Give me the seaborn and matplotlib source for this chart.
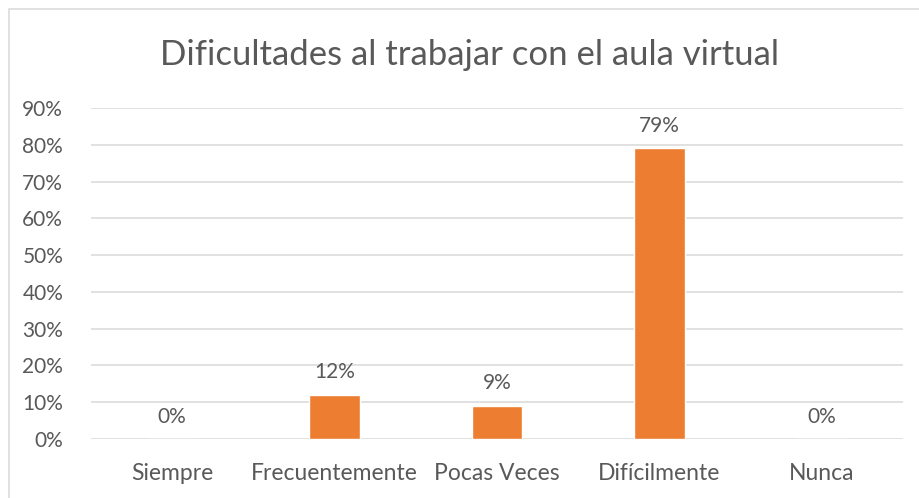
import pandas as pd
import seaborn as sns
import matplotlib
matplotlib.use("Agg")
import matplotlib.pyplot as plt
from matplotlib.patches import Rectangle
from matplotlib.ticker import PercentFormatter

categories = ["Siempre", "Frecuentemente", "Pocas Veces", "Difícilmente", "Nunca"]
values = [0.00, 0.12, 0.09, 0.79, 0.00]
labels = ["0%", "12%", "9%", "79%", "0%"]
yticks = [0.0, 0.1, 0.2, 0.3, 0.4, 0.5, 0.6, 0.7, 0.8, 0.9]

df = pd.DataFrame({"categoria": categories, "valor": values})

sns.set_theme(style="white")
plt.rcParams["font.family"] = ["Lato", "DejaVu Sans"]
text_color = "#595959"

fig = plt.figure(figsize=(9.2, 4.98), dpi=100)
ax = fig.add_axes([91 / 920, 59 / 498, 812 / 920, 331 / 498])

sns.barplot(data=df, x="categoria", y="valor", color="#ED7D31", saturation=1,
            width=0.314, ax=ax, zorder=3)

ax.set_ylim(0, 0.9)
ax.set_yticks(yticks)
ax.yaxis.set_major_formatter(PercentFormatter(1.0, decimals=0))
ax.grid(axis="y", color="#D9D9D9", linewidth=1.1, zorder=0)
ax.grid(axis="x", visible=False)
for s in ax.spines.values():
    s.set_visible(False)
ax.tick_params(axis="both", length=0, colors=text_color)
ax.tick_params(axis="y", pad=20, labelsize=15)
ax.tick_params(axis="x", pad=17, labelsize=16.5)
ax.set_xlabel("")
ax.set_ylabel("")
ax.set_axisbelow(True)

ax.bar_label(ax.containers[0], labels=labels, padding=9, fontsize=15, color=text_color)

fig.text(470 / 920, 1 - 55 / 498, "Dificultades al trabajar con el aula virtual",
         ha="center", va="center", fontsize=25, color=text_color)

# marco del gráfico
fig.patches.append(Rectangle((9 / 920, -0.1), 1.2, 1 - 9 / 498 + 0.1, transform=fig.transFigure,
                             fill=False, edgecolor="#D9D9D9", linewidth=1.1))

fig.savefig("out.png", dpi=100)
